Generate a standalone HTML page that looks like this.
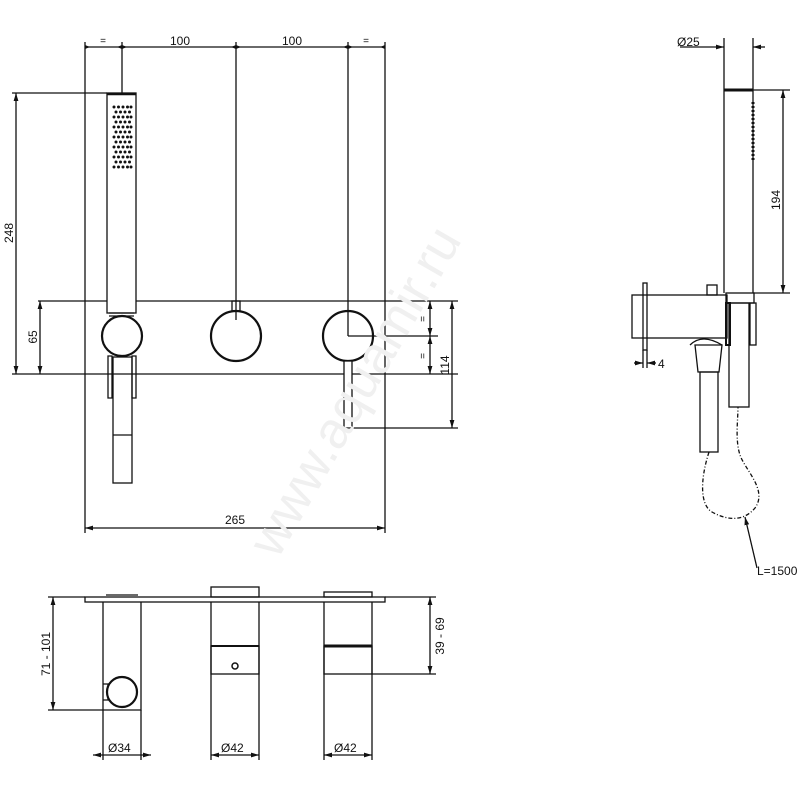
<!DOCTYPE html>
<html><head><meta charset="utf-8"><style>
html,body{margin:0;padding:0;background:#fff}
svg{display:block}
text{font-family:"Liberation Sans",sans-serif;fill:#111}
</style></head><body>
<svg width="800" height="800" viewBox="0 0 800 800" xmlns="http://www.w3.org/2000/svg">
<defs>
<marker id="a" viewBox="0 0 10 6" refX="10" refY="3" markerWidth="8" markerHeight="5" orient="auto-start-reverse" markerUnits="userSpaceOnUse"><path d="M0,0L10,3L0,6z" fill="#111"/></marker>
<g id="r5"><circle cx="114" cy="0" r="1.5"/><circle cx="118.5" cy="0" r="1.5"/><circle cx="123" cy="0" r="1.5"/><circle cx="127.5" cy="0" r="1.5"/><circle cx="131" cy="0" r="1.5"/></g>
<g id="r4"><circle cx="116" cy="0" r="1.5"/><circle cx="120.5" cy="0" r="1.5"/><circle cx="125" cy="0" r="1.5"/><circle cx="129.5" cy="0" r="1.5"/></g>
</defs>
<g stroke="#111" fill="none" stroke-width="1.3">
<line x1="85" y1="42" x2="85" y2="533"/>
<line x1="385" y1="42" x2="385" y2="533"/>
<line x1="85" y1="47" x2="385" y2="47"/>
<line x1="122" y1="42" x2="122" y2="93"/>
<line x1="236" y1="42" x2="236" y2="320"/>
<line x1="348" y1="42" x2="348" y2="336"/>
<path d="M90,47l-5,-2v4zM117,47l5,-2v4zM127,47l-5,-2v4zM231,47l5,-2v4zM241,47l-5,-2v4zM343,47l5,-2v4zM353,47l-5,-2v4zM380,47l5,-2v4z" fill="#111" stroke="none"/>
<line x1="38" y1="301" x2="107" y2="301"/><line x1="136" y1="301" x2="458" y2="301"/>
<line x1="12" y1="374" x2="458" y2="374"/>
<line x1="12" y1="93" x2="107" y2="93"/>
<rect x="107" y="93" width="29" height="220"/>
<line x1="107" y1="94" x2="136" y2="94" stroke-width="2.5"/>
<line x1="109" y1="313" x2="134" y2="313"/><line x1="109" y1="316" x2="134" y2="316"/>
<circle cx="122" cy="336" r="20" stroke-width="2.2" fill="#fff"/>
<rect x="113" y="357" width="19" height="126"/>
<line x1="113" y1="435" x2="132" y2="435"/>
<path d="M108,356h4v42h-4zM132,356h4v42h-4z"/>
<rect x="232" y="301" width="8" height="10"/>
<circle cx="236" cy="336" r="25" stroke-width="2.2"/>
<circle cx="348" cy="336" r="25" stroke-width="2.2"/>
<rect x="344" y="361" width="8" height="67" fill="#fff"/>
<line x1="348" y1="336" x2="438" y2="336"/>
<line x1="352" y1="428" x2="458" y2="428"/>
<line x1="16" y1="93" x2="16" y2="374" marker-start="url(#a)" marker-end="url(#a)"/>
<line x1="40" y1="301" x2="40" y2="374" marker-start="url(#a)" marker-end="url(#a)"/>
<line x1="430" y1="301" x2="430" y2="336" marker-start="url(#a)" marker-end="url(#a)"/>
<line x1="430" y1="336" x2="430" y2="374" marker-start="url(#a)" marker-end="url(#a)"/>
<line x1="452" y1="301" x2="452" y2="428" marker-start="url(#a)" marker-end="url(#a)"/>
<line x1="85" y1="528" x2="385" y2="528" marker-start="url(#a)" marker-end="url(#a)"/>
<line x1="724" y1="38" x2="724" y2="293"/><line x1="753" y1="38" x2="753" y2="293"/>
<line x1="680" y1="47" x2="724" y2="47" marker-end="url(#a)"/>
<line x1="753" y1="47" x2="765" y2="47" marker-start="url(#a)"/>
<line x1="724" y1="90" x2="753" y2="90" stroke-width="3"/>
<line x1="753" y1="90" x2="790" y2="90"/><line x1="753" y1="293" x2="790" y2="293"/>
<line x1="783" y1="90" x2="783" y2="293" marker-start="url(#a)" marker-end="url(#a)"/>
<line x1="753" y1="102" x2="753" y2="160" stroke-width="3" stroke-dasharray="2,2"/>
<rect x="643" y="283" width="4" height="67"/>
<rect x="632" y="295" width="95" height="43"/>
<rect x="707" y="285" width="10" height="10"/>
<rect x="726" y="293" width="28" height="10"/>
<rect x="726" y="303" width="4" height="42" stroke-width="2"/>
<rect x="750" y="303" width="6" height="42"/>
<rect x="729" y="303" width="20" height="104"/>
<path d="M690,345 q12,-12 32,0"/>
<path d="M695,345 h27 l-3,27 h-21z"/>
<rect x="700" y="372" width="18" height="80"/>
<line x1="634" y1="363" x2="643" y2="363" marker-end="url(#a)"/>
<line x1="647" y1="363" x2="656" y2="363" marker-start="url(#a)"/>
<line x1="643" y1="350" x2="643" y2="368"/><line x1="647" y1="350" x2="647" y2="368"/>
<path d="M709,452 C700,480 700,505 712,512 C730,522 745,520 755,508 C768,490 745,470 740,455 C735,440 738,420 738,407" stroke-dasharray="4,2,1,2"/>
<line x1="757" y1="568" x2="745" y2="517" marker-end="url(#a)"/>
<rect x="85" y="597" width="300" height="5"/>
<path d="M103,602V710H141V602"/>
<line x1="106" y1="595" x2="138" y2="595"/>
<path d="M103,684h5v16h-5"/>
<circle cx="122" cy="692" r="15" stroke-width="2.2" fill="#fff"/>
<line x1="103" y1="710" x2="103" y2="760"/><line x1="141" y1="710" x2="141" y2="760"/>
<rect x="211" y="587" width="48" height="10"/>
<path d="M211,602V760M259,602V760"/>
<rect x="211" y="646" width="48" height="28"/>
<line x1="211" y1="646" x2="259" y2="646" stroke-width="2"/>
<circle cx="235" cy="666" r="3" stroke-width="1.5"/>
<rect x="324" y="592" width="48" height="5"/>
<path d="M324,602V760M372,602V760"/>
<rect x="324" y="646" width="48" height="28"/>
<line x1="324" y1="646" x2="372" y2="646" stroke-width="3"/>
<line x1="48" y1="597" x2="85" y2="597"/><line x1="48" y1="710" x2="103" y2="710"/>
<line x1="53" y1="597" x2="53" y2="710" marker-start="url(#a)" marker-end="url(#a)"/>
<line x1="385" y1="597" x2="436" y2="597"/><line x1="372" y1="674" x2="436" y2="674"/>
<line x1="430" y1="597" x2="430" y2="674" marker-start="url(#a)" marker-end="url(#a)"/>
<line x1="93" y1="755" x2="151" y2="755" marker-start="url(#a)" marker-end="url(#a)"/>
<line x1="211" y1="755" x2="259" y2="755" marker-start="url(#a)" marker-end="url(#a)"/>
<line x1="324" y1="755" x2="372" y2="755" marker-start="url(#a)" marker-end="url(#a)"/>
</g>
<g fill="#111">
<use href="#r5" y="107"/><use href="#r4" y="112"/><use href="#r5" y="117"/><use href="#r4" y="122"/><use href="#r5" y="127"/><use href="#r4" y="132"/><use href="#r5" y="137"/><use href="#r4" y="142"/><use href="#r5" y="147"/><use href="#r4" y="152"/><use href="#r5" y="157"/><use href="#r4" y="162"/><use href="#r5" y="167"/>
</g>
<g font-size="12">
<text x="103" y="44" text-anchor="middle" font-size="10">=</text>
<text x="180" y="45" text-anchor="middle">100</text>
<text x="292" y="45" text-anchor="middle">100</text>
<text x="366" y="44" text-anchor="middle" font-size="10">=</text>
<text transform="translate(13,233) rotate(-90)" text-anchor="middle">248</text>
<text transform="translate(37,337) rotate(-90)" text-anchor="middle">65</text>
<text transform="translate(426,319) rotate(-90)" text-anchor="middle" font-size="10">=</text>
<text transform="translate(426,356) rotate(-90)" text-anchor="middle" font-size="10">=</text>
<text transform="translate(449,365) rotate(-90)" text-anchor="middle">114</text>
<text x="235" y="524" text-anchor="middle">265</text>
<text x="677" y="46">Ø25</text>
<text transform="translate(780,200) rotate(-90)" text-anchor="middle">194</text>
<text x="658" y="368">4</text>
<text x="757" y="575">L=1500</text>
<text transform="translate(50,654) rotate(-90)" text-anchor="middle">71 - 101</text>
<text transform="translate(444,636) rotate(-90)" text-anchor="middle">39 - 69</text>
<text x="108" y="752">Ø34</text>
<text x="221" y="752">Ø42</text>
<text x="334" y="752">Ø42</text>
</g>
<text transform="translate(370,400) rotate(-60)" text-anchor="middle" font-size="52" style="fill:#f0f0f0">www.aquamir.ru</text>
</svg>
</body></html>
